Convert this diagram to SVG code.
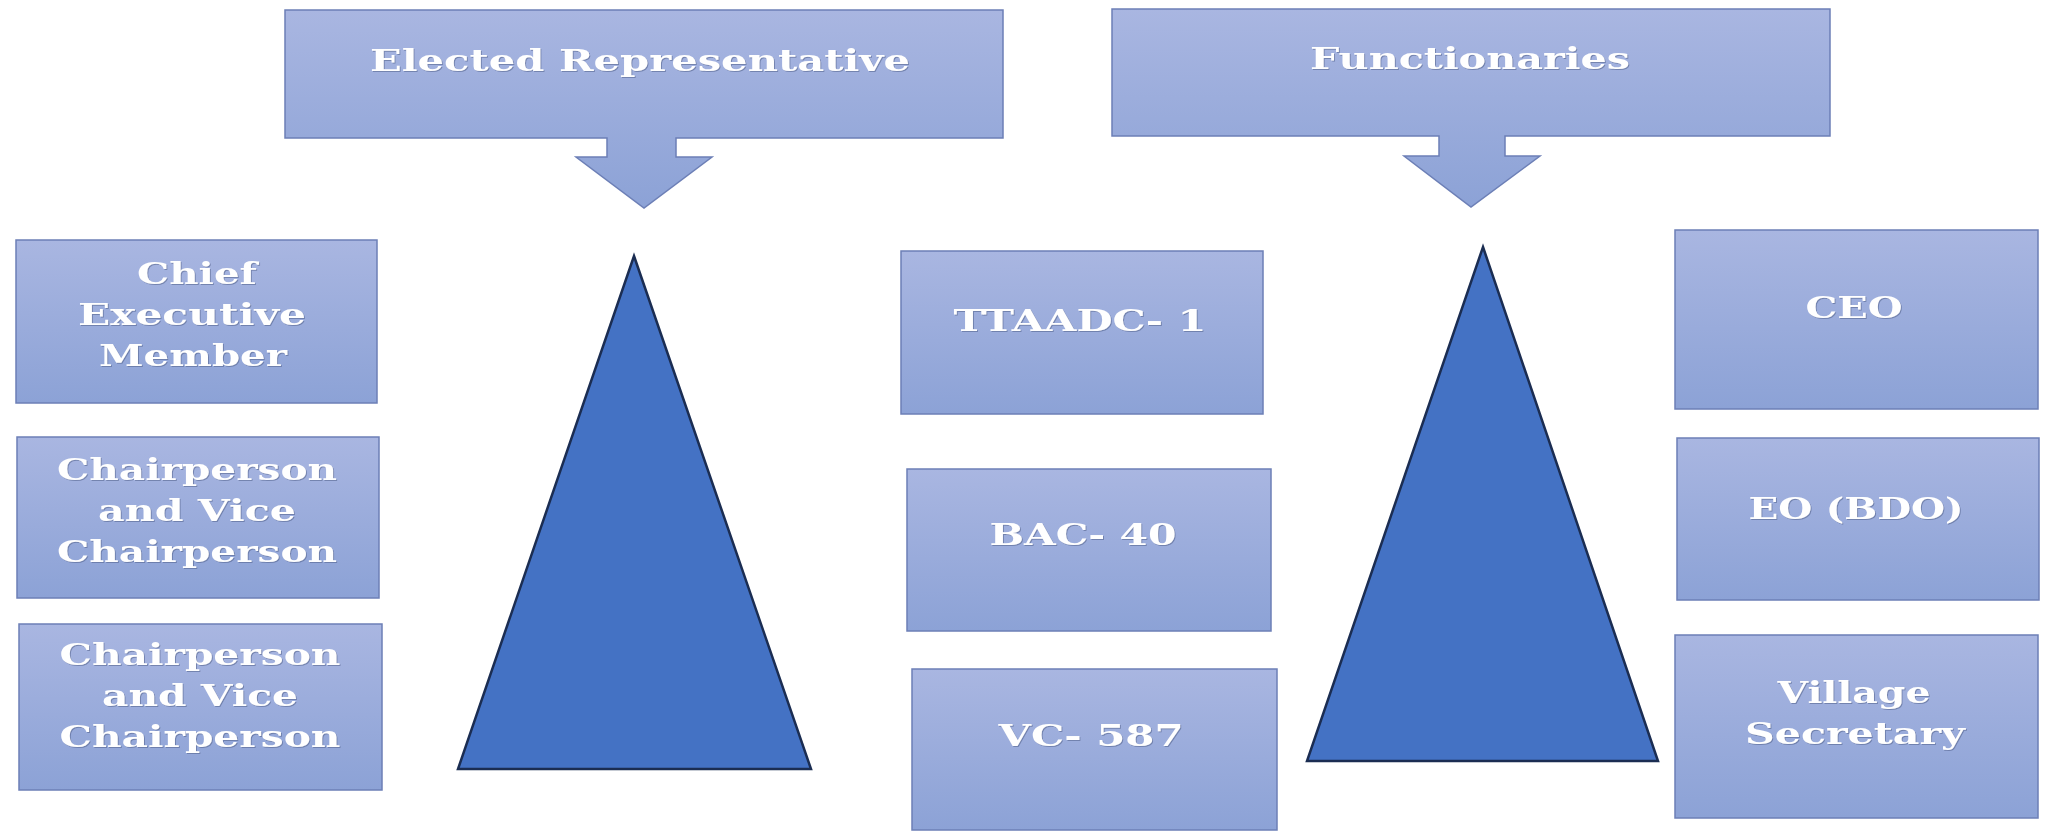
<svg xmlns="http://www.w3.org/2000/svg" width="2047" height="833" viewBox="0 0 2047 833">
<defs>
<linearGradient id="boxGrad" x1="0" y1="0" x2="0" y2="1">
<stop offset="0" stop-color="#a9b6e1"/>
<stop offset="1" stop-color="#8ca2d6"/>
</linearGradient>
<filter id="ts" x="-5%" y="-20%" width="110%" height="140%">
<feDropShadow dx="1" dy="1" stdDeviation="0.6" flood-color="#4f5f88" flood-opacity="0.55"/>
</filter>
</defs>
<style>
.box{fill:url(#boxGrad);stroke:#6c7fb6;stroke-width:1.5}
.tri{fill:#4472c4;stroke:#1b2d52;stroke-width:2.5;stroke-linejoin:miter}
.hd{font-family:"DejaVu Serif",serif;font-weight:bold;font-size:30px;fill:#ffffff;text-anchor:middle;filter:url(#ts)}
.lb{font-family:"DejaVu Serif",serif;font-weight:bold;font-size:30px;fill:#ffffff;text-anchor:middle;filter:url(#ts)}
</style>
<rect width="2047" height="833" fill="#ffffff"/>
<g id="connectors"/>
<g id="elected">
<path class="box" d="M285,10 H1003 V138 H676 V157 H712 L644,208 L576,157 H607 V138 H285 Z"/>
<text class="hd" x="640" y="71" textLength="540" lengthAdjust="spacingAndGlyphs">Elected Representative</text>
</g>
<g id="functionaries">
<path class="box" d="M1112,9 H1830 V136 H1505 V156 H1540 L1471,207 L1404,156 H1439 V136 H1112 Z"/>
<text class="hd" x="1470" y="69" textLength="320" lengthAdjust="spacingAndGlyphs">Functionaries</text>
</g>
<g id="triangle-left">
<polygon class="tri" points="634,256 811,769 458,769"/>
</g>
<g id="triangle-right">
<polygon class="tri" points="1483,247 1658,761 1307,761"/>
</g>
<g id="cem">
<rect class="box" x="16" y="240" width="361" height="163"/>
<text class="lb" x="197" y="284" textLength="120" lengthAdjust="spacingAndGlyphs">Chief</text>
<text class="lb" x="192" y="325" textLength="228" lengthAdjust="spacingAndGlyphs">Executive</text>
<text class="lb" x="193" y="366" textLength="188" lengthAdjust="spacingAndGlyphs">Member</text>
</g>
<g id="chair1">
<rect class="box" x="17" y="437" width="362" height="161"/>
<text class="lb" x="197" y="480" textLength="280" lengthAdjust="spacingAndGlyphs">Chairperson</text>
<text class="lb" x="197" y="521" textLength="198" lengthAdjust="spacingAndGlyphs">and Vice</text>
<text class="lb" x="197" y="562" textLength="280" lengthAdjust="spacingAndGlyphs">Chairperson</text>
</g>
<g id="chair2">
<rect class="box" x="19" y="624" width="363" height="166"/>
<text class="lb" x="200" y="665" textLength="281" lengthAdjust="spacingAndGlyphs">Chairperson</text>
<text class="lb" x="200" y="706" textLength="196" lengthAdjust="spacingAndGlyphs">and Vice</text>
<text class="lb" x="200" y="747" textLength="281" lengthAdjust="spacingAndGlyphs">Chairperson</text>
</g>
<g id="ttaadc">
<rect class="box" x="901" y="251" width="362" height="163"/>
<text class="lb" x="1080" y="331" textLength="253" lengthAdjust="spacingAndGlyphs">TTAADC- 1</text>
</g>
<g id="bac">
<rect class="box" x="907" y="469" width="364" height="162"/>
<text class="lb" x="1083" y="545" textLength="187" lengthAdjust="spacingAndGlyphs">BAC- 40</text>
</g>
<g id="vc">
<rect class="box" x="912" y="669" width="365" height="161"/>
<text class="lb" x="1091" y="746" textLength="185" lengthAdjust="spacingAndGlyphs">VC- 587</text>
</g>
<g id="ceo">
<rect class="box" x="1675" y="230" width="363" height="179"/>
<text class="lb" x="1854" y="318" textLength="97" lengthAdjust="spacingAndGlyphs">CEO</text>
</g>
<g id="eo">
<rect class="box" x="1677" y="438" width="362" height="162"/>
<text class="lb" x="1856" y="519" textLength="215" lengthAdjust="spacingAndGlyphs">EO (BDO)</text>
</g>
<g id="village">
<rect class="box" x="1675" y="635" width="363" height="183"/>
<text class="lb" x="1854" y="703" textLength="153" lengthAdjust="spacingAndGlyphs">Village</text>
<text class="lb" x="1855" y="744" textLength="220" lengthAdjust="spacingAndGlyphs">Secretary</text>
</g>
</svg>
